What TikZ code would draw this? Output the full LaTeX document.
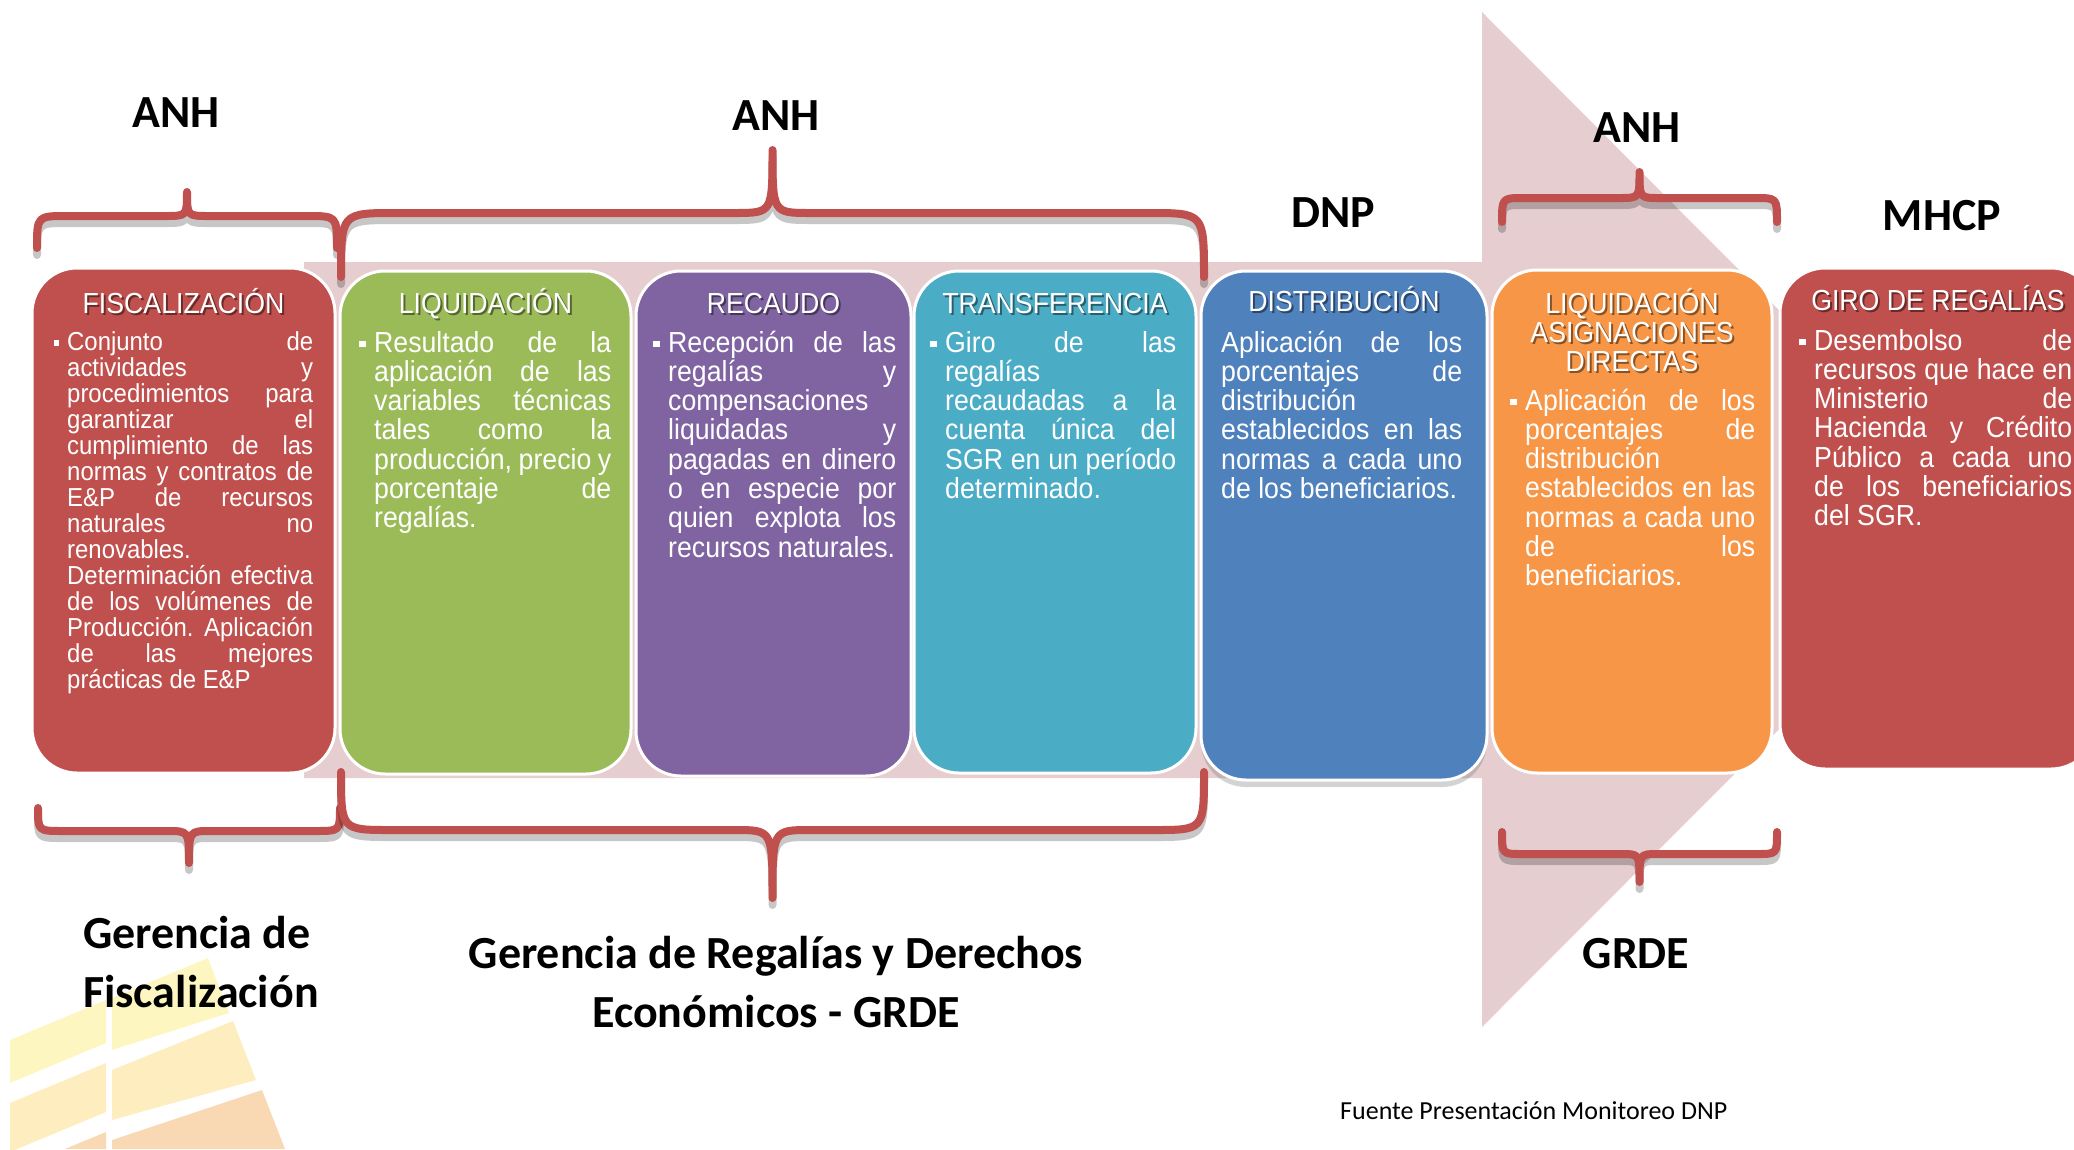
\documentclass[tikz,border=0pt]{standalone}
\usepackage{fontspec}
\setmainfont{Carlito}
\newfontfamily\narrowfont[FakeStretch=0.92]{Liberation Sans}
\usetikzlibrary{shadows}

\definecolor{fisred}{HTML}{C0504D}
\definecolor{liqgreen}{HTML}{9BBB59}
\definecolor{recpurple}{HTML}{8064A2}
\definecolor{traaqua}{HTML}{4BACC6}
\definecolor{disblue}{HTML}{4F81BD}
\definecolor{asgorange}{HTML}{F79646}
\definecolor{flowpink}{HTML}{E6CED0}
\definecolor{decoyellow}{HTML}{FEF6C1}
\definecolor{decocream}{HTML}{FDEDBF}
\definecolor{decopeach}{HTML}{F9D9B4}

\tolerance=10000
\hbadness=10000

\newcommand{\sqbullet}{\llap{\raisebox{0.16em}{\rule{0.22em}{0.22em}}\hspace{0.3em}}}
% x1, x2, end y, bar y, tip y, end radius, tip half width
\newcommand{\bracepath}[7]{(#1,#3) .. controls (#1,#4) .. ({#1+#6},#4) -- ({(#1+#2)/2-#7},#4) .. controls ({(#1+#2)/2},#4) .. ({(#1+#2)/2},#5) .. controls ({(#1+#2)/2},#4) .. ({(#1+#2)/2+#7},#4) -- ({#2-#6},#4) .. controls (#2,#4) .. (#2,#3)}
\newcommand{\regbrace}[7]{%
  \draw[braceshade] \bracepath{#1}{#2}{#3}{#4}{#5}{#6}{#7};
  \draw[bracestroke] \bracepath{#1}{#2}{#3}{#4}{#5}{#6}{#7};}
\newcommand{\stagehead}[4]{%
  \node[headshade] (#1s) at ({#2+2},{#3+2}) {#4};
  \node[headtext] (#1) at (#2,#3) {#4};}

\begin{document}
\begin{tikzpicture}[x=1pt, y=-1pt,
  stagebox/.style={rounded corners=45pt, draw=white, line width=3pt, inner sep=0pt},
  headtext/.style={anchor=base, align=center, inner sep=0pt, text=white,
    font=\narrowfont\fontsize{29}{29}\selectfont},
  headshade/.style={headtext, text=black, opacity=0.45},
  stagetext/.style={anchor=base west, align=justify, inner sep=0pt, text=white,
    font=\narrowfont\fontsize{29}{29.3}\selectfont},
  smalltext/.style={font=\narrowfont\fontsize{26}{26}\selectfont},
  bracestroke/.style={draw=fisred, line width=8pt, line cap=round, line join=round},
  braceshade/.style={bracestroke, draw=black, opacity=0.22, yshift=-7pt},
  orglabel/.style={anchor=base, inner sep=0pt, font=\bfseries\fontsize{46}{59}\selectfont},
  sourcenote/.style={anchor=base west, inner sep=0pt, font=\fontsize{26}{30}\selectfont}]
  \useasboundingbox (0,0) rectangle (2074,1149);
  \clip (0,0) rectangle (2074,1149);

  \fill[decoyellow] (10,1040) -- (106,1000) -- (106,1043) -- (10,1083) -- cycle;
  \fill[decocream] (10,1103) -- (106,1063) -- (106,1112) -- (10,1152) -- cycle;
  \fill[decopeach] (65,1149) -- (106,1132) -- (106,1149) -- cycle;
  \fill[decoyellow] (112,998) -- (208,958) -- (229,1013) -- (112,1050) -- cycle;
  \fill[decocream] (112,1070) -- (233,1021) -- (256,1080) -- (112,1120) -- cycle;
  \fill[decopeach] (112,1140) -- (262,1090) -- (285,1149) -- (112,1149) -- cycle;

  \fill[flowpink] (304,262) -- (1482,262) -- (1482,12) -- (1988,520) -- (1482,1027) -- (1482,778) -- (304,778) -- cycle;

  \node[stagebox, fill=fisred, minimum width=303pt, minimum height=505pt] (fisbox) at (183.5,520.5) {};
  \node[stagebox, fill=liqgreen, minimum width=291pt, minimum height=503pt] (liqbox) at (485.5,522.5) {};
  \node[stagebox, fill=recpurple, minimum width=275pt, minimum height=505pt] (recbox) at (773.5,523.5) {};
  \node[stagebox, fill=traaqua, minimum width=282pt, minimum height=502pt] (trabox) at (1055,522) {};
  \node[stagebox, fill=disblue, minimum width=286pt, minimum height=509pt,
    drop shadow={opacity=0.35, shadow xshift=0pt, shadow yshift=-7pt}] (disbox) at (1344,525.5) {};
  \node[stagebox, fill=asgorange, minimum width=280pt, minimum height=503pt] (asgbox) at (1632,521.5) {};
  \node[stagebox, fill=fisred, minimum width=316pt, minimum height=501pt] (girbox) at (1938,518.5) {};

  \stagehead{fis}{183.5}{313}{FISCALIZACIÓN}
  \stagehead{liq}{485.5}{313}{LIQUIDACIÓN}
  \stagehead{rec}{773.5}{313}{RECAUDO}
  \stagehead{tra}{1055}{313}{TRANSFERENCIA}
  \stagehead{dis}{1344}{311}{DISTRIBUCIÓN}
  \stagehead{asg}{1632}{371}{LIQUIDACIÓN\\ASIGNACIONES\\DIRECTAS}
  \stagehead{gir}{1938}{310}{GIRO DE REGALÍAS}

  \node[stagetext, smalltext, text width=246pt] (fistxt) at (67,350) {\sqbullet Conjunto de\linebreak actividades y\linebreak procedimientos para\linebreak garantizar el\linebreak cumplimiento de las\linebreak normas y contratos de\linebreak E\&P de recursos\linebreak naturales no\linebreak renovables.\\Determinación efectiva\linebreak de los volúmenes de\linebreak Producción. Aplicación\linebreak de las mejores\linebreak prácticas de E\&P};
  \node[stagetext, text width=237pt] (liqtxt) at (374,352) {\sqbullet Resultado de la\linebreak aplicación de las\linebreak variables técnicas\linebreak tales como la\linebreak producción, precio y\linebreak porcentaje de\linebreak regalías.};
  \node[stagetext, text width=228pt] (rectxt) at (668,352) {\sqbullet Recepción de las\linebreak regalías y\linebreak compensaciones\linebreak liquidadas y\linebreak pagadas en dinero\linebreak o en especie por\linebreak quien explota los\linebreak recursos naturales.};
  \node[stagetext, text width=231pt] (tratxt) at (945,352) {\sqbullet Giro de las\linebreak regalías\linebreak recaudadas a la\linebreak cuenta única del\linebreak SGR en un período\linebreak determinado.};
  \node[stagetext, text width=241pt] (distxt) at (1221,352) {Aplicación de los\linebreak porcentajes de\linebreak distribución\linebreak establecidos en las\linebreak normas a cada uno\linebreak de los beneficiarios.};
  \node[stagetext, text width=230pt] (asgtxt) at (1525,410) {\sqbullet Aplicación de los\linebreak porcentajes de\linebreak distribución\linebreak establecidos en las\linebreak normas a cada uno\linebreak de los\linebreak beneficiarios.};
  \node[stagetext, text width=258pt] (girtxt) at (1814,350) {\sqbullet Desembolso de\linebreak recursos que hace en\linebreak Ministerio de\linebreak Hacienda y Crédito\linebreak Público a cada uno\linebreak de los beneficiarios\linebreak del SGR.};

  \regbrace{37}{337}{248}{216}{192}{30}{22}
  \regbrace{341}{1204}{277}{213}{150}{55}{38}
  \regbrace{1502}{1777}{222}{198}{172}{22}{20}
  \regbrace{38}{340}{808}{831}{863}{25}{22}
  \regbrace{341}{1204}{772}{830}{898}{50}{38}
  \regbrace{1502}{1777}{832}{854}{882}{20}{18}

  \node[orglabel] (anhfis) at (176,127) {ANH};
  \node[orglabel] (anhgrde) at (776,130) {ANH};
  \node[orglabel] (dnp) at (1333,227) {DNP};
  \node[orglabel] (anhasg) at (1637,142) {ANH};
  \node[orglabel] (mhcp) at (1942,230) {MHCP};
  \node[orglabel, anchor=base west, align=left] (gerfis) at (83,1007) {Gerencia de\\Fiscalización};
  \node[orglabel, align=center] (gergrde) at (776,1027) {Gerencia de Regalías y Derechos\\Económicos - GRDE};
  \node[orglabel] (grde) at (1636,968) {GRDE};
  \node[sourcenote] (fuente) at (1340,1119) {Fuente Presentación Monitoreo DNP};
\end{tikzpicture}
\end{document}
